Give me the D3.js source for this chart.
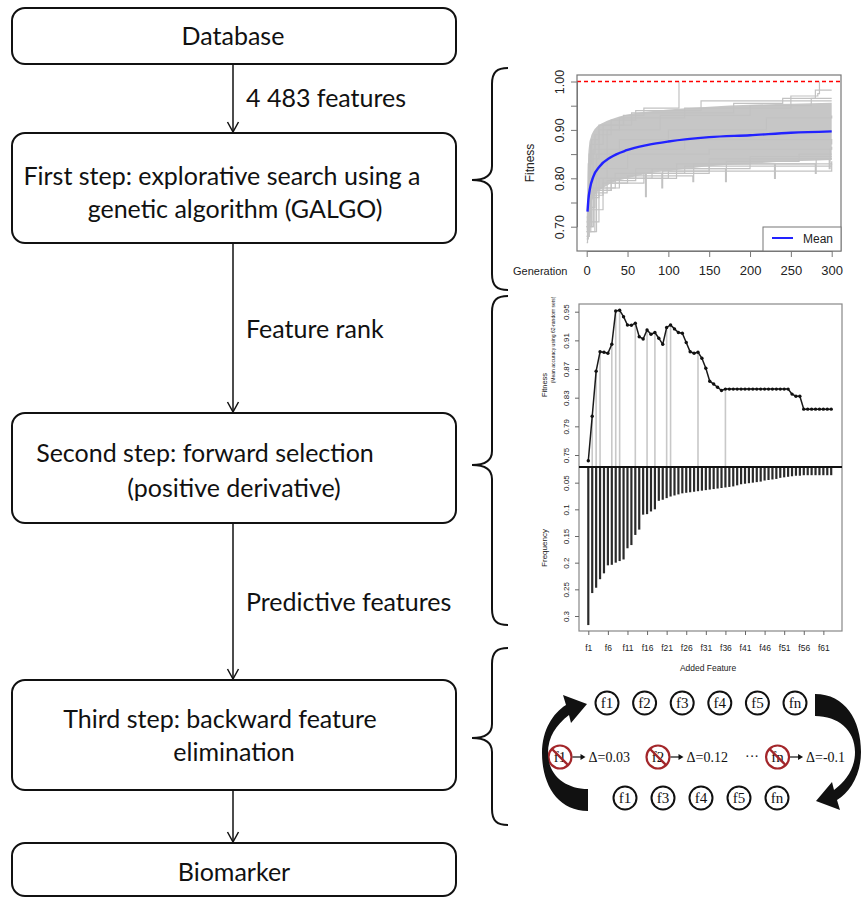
<!DOCTYPE html>
<html>
<head>
<meta charset="utf-8">
<script src="https://cdn.jsdelivr.net/npm/d3@7"></script>
<style>
  body { margin: 0; background: #fff; }
  svg { display: block; }
  .flow text { font-family: Lato, "Open Sans", sans-serif; font-size: 25px; fill: #111; }
  .rplot text { font-family: "Liberation Sans", Arial, sans-serif; fill: #222; }
  .loop text { font-family: "Liberation Serif", "DejaVu Serif", serif; fill: #111; }
</style>
</head>
<body>
<svg id="fig" width="861" height="898"></svg>
<script>
// ---------- data ----------
const stepLabels = [
  ["Database"],
  ["First step: explorative search using a", "genetic algorithm (GALGO)"],
  ["Second step: forward selection", "(positive derivative)"],
  ["Third step: backward feature", "elimination"],
  ["Biomarker"]
];
const linkLabels = ["4 483 features", "Feature rank", "Predictive features", ""];

// GALGO evolution (panel 1)
const genTicks = [0, 50, 100, 150, 200, 250, 300];
const fitnessTicks = [0.70, 0.75, 0.80, 0.85, 0.90, 0.95, 1.00];
const meanGen = [1, 2, 4, 8, 16, 29, 49, 75, 100, 150, 200, 250, 300];
const meanFit = [0.731, 0.755, 0.779, 0.803, 0.825, 0.843, 0.858, 0.869, 0.876, 0.885, 0.889, 0.894, 0.897];
const bandGen = [0, 1, 2, 3, 5, 8, 12, 20, 30, 50, 75, 100, 150, 200, 250, 300];
const bandLow = [0.69, 0.70, 0.715, 0.73, 0.745, 0.76, 0.77, 0.78, 0.79, 0.80, 0.81, 0.815, 0.825, 0.83, 0.835, 0.838];
const bandHigh = [0.71, 0.80, 0.85, 0.87, 0.885, 0.897, 0.906, 0.915, 0.922, 0.932, 0.938, 0.942, 0.948, 0.952, 0.954, 0.956];
const greyRuns = [
  [[0, 0.70], [2, 0.83], [6, 0.88], [15, 0.91], [45, 0.93], [70, 0.945], [113, 1.0]],
  [[0, 0.69], [3, 0.85], [10, 0.89], [30, 0.92], [60, 0.94], [140, 0.96], [300, 0.96]],
  [[0, 0.72], [5, 0.87], [20, 0.91], [55, 0.935], [180, 0.955], [240, 0.965], [300, 0.965]],
  [[0, 0.70], [8, 0.86], [25, 0.90], [90, 0.93], [200, 0.95], [275, 0.965], [280, 0.982], [300, 0.982]],
  [[0, 0.71], [4, 0.84], [15, 0.90], [40, 0.925], [120, 0.945], [250, 0.97], [283, 0.975], [285, 1.0]],
  [[0, 0.68], [3, 0.80], [12, 0.85], [40, 0.88], [100, 0.90], [220, 0.925], [300, 0.93]],
  [[0, 0.667], [1, 0.72], [5, 0.76], [15, 0.775], [30, 0.79], [70, 0.81], [72, 0.762], [73, 0.81], [120, 0.825], [300, 0.825]],
  [[0, 0.68], [3, 0.74], [10, 0.77], [25, 0.795], [60, 0.81], [92, 0.78], [93, 0.815], [150, 0.84], [300, 0.84]],
  [[0, 0.69], [5, 0.765], [20, 0.79], [50, 0.805], [130, 0.793], [131, 0.83], [200, 0.845], [300, 0.845]],
  [[0, 0.70], [8, 0.775], [30, 0.80], [80, 0.82], [170, 0.793], [171, 0.835], [260, 0.85], [300, 0.85]],
  [[0, 0.69], [10, 0.78], [40, 0.80], [110, 0.83], [230, 0.80], [231, 0.83], [300, 0.835]],
  [[0, 0.70], [6, 0.78], [35, 0.81], [150, 0.83], [280, 0.81], [281, 0.84], [300, 0.84]],
  [[0, 0.71], [15, 0.80], [60, 0.82], [200, 0.84], [297, 0.82], [298, 0.86], [300, 0.86]],
  [[0, 0.675], [2, 0.735], [20, 0.80], [100, 0.815], [300, 0.83]],
  [[0, 0.69], [12, 0.82], [50, 0.85], [150, 0.86], [300, 0.865]],
  [[0, 0.70], [4, 0.80], [25, 0.86], [120, 0.88], [300, 0.87]]
];

// forward selection (panel 2)
const featureFitness = [
  0.742, 0.804, 0.867, 0.894, 0.8935, 0.892, 0.9045, 0.951, 0.952, 0.943,
  0.9315, 0.931, 0.934, 0.915, 0.912, 0.9245, 0.9185, 0.921, 0.913, 0.9045,
  0.928, 0.9315, 0.926, 0.921, 0.920, 0.907, 0.894, 0.892, 0.8935, 0.885,
  0.871, 0.853, 0.849, 0.8445, 0.840, 0.842, 0.842, 0.842, 0.842, 0.842,
  0.842, 0.842, 0.842, 0.842, 0.842, 0.842, 0.842, 0.842, 0.842, 0.842,
  0.842, 0.842, 0.835, 0.832, 0.832, 0.814, 0.814, 0.814, 0.814, 0.814,
  0.814, 0.814, 0.814
];
const featureFrequency = [
  0.317, 0.257, 0.247, 0.231, 0.220, 0.205, 0.204, 0.200, 0.197, 0.194,
  0.173, 0.167, 0.148, 0.138, 0.110, 0.109, 0.104, 0.100, 0.084, 0.082,
  0.079, 0.076, 0.074, 0.072, 0.070, 0.069, 0.068, 0.067, 0.066, 0.065,
  0.064, 0.063, 0.062, 0.061, 0.060, 0.059, 0.058, 0.057, 0.055, 0.053,
  0.052, 0.051, 0.050, 0.049, 0.048, 0.046, 0.045, 0.044, 0.043, 0.041,
  0.040, 0.039, 0.038, 0.037, 0.037, 0.036, 0.036, 0.036, 0.036, 0.036,
  0.036, 0.036, 0.036
];
const fitAxisTicks = [0.75, 0.79, 0.83, 0.87, 0.91, 0.95];
const freqAxisTicks = [0.05, 0.1, 0.15, 0.2, 0.25, 0.3];
const featureTicks = [1, 6, 11, 16, 21, 26, 31, 36, 41, 46, 51, 56, 61];

// backward elimination (panel 3)
const topRow = ["f1", "f2", "f3", "f4", "f5", "fn"];
const removedFeatures = ["f1", "f2", "fn"];
const removalDeltas = ["0.03", "0.12", "-0.1"];
const bottomRow = ["f1", "f3", "f4", "f5", "fn"];

const svg = d3.select("#fig");

// ---------- flowchart ----------
const boxLayout = [
  { y0: 8, y1: 64, base: [45], cx: [233] },
  { y0: 133, y1: 243, base: [185, 218], cx: [222, 235] },
  { y0: 413, y1: 523, base: [462, 497], cx: [205, 234] },
  { y0: 680, y1: 790, base: [728, 761], cx: [220, 234] },
  { y0: 843, y1: 896, base: [881], cx: [234] }
];
const flow = svg.append("g").attr("class", "flow");
const flowX0 = 12, flowX1 = 456, flowMid = 233;

boxLayout.forEach((b, i) => {
  flow.append("rect")
    .attr("x", flowX0).attr("y", b.y0)
    .attr("width", flowX1 - flowX0).attr("height", b.y1 - b.y0)
    .attr("rx", 13)
    .attr("fill", "#fff").attr("stroke", "#111").attr("stroke-width", 2);
  stepLabels[i].forEach((line, j) => {
    flow.append("text")
      .attr("x", b.cx[j]).attr("y", b.base[j])
      .attr("text-anchor", "middle")
      .text(line);
  });
  if (i < boxLayout.length - 1) {
    const yEnd = boxLayout[i + 1].y0;
    flow.append("line")
      .attr("x1", flowMid).attr("x2", flowMid)
      .attr("y1", b.y1).attr("y2", yEnd - 1)
      .attr("stroke", "#111").attr("stroke-width", 1.5);
    flow.append("path")
      .attr("d", `M${flowMid - 5.5},${yEnd - 11} L${flowMid},${yEnd - 1} L${flowMid + 5.5},${yEnd - 11}`)
      .attr("fill", "none").attr("stroke", "#111").attr("stroke-width", 1.5);
  }
});
const linkBase = [107, 338, 611];
linkLabels.forEach((t, i) => {
  if (!t) return;
  flow.append("text").attr("x", 246).attr("y", linkBase[i]).text(t);
});

// braces
const braces = [[68, 180, 290], [296, 465, 625], [648, 738, 825]];
svg.append("g").selectAll("path")
  .data(braces)
  .join("path")
  .attr("d", ([t, m, b]) =>
    `M508,${t} C497,${t} 492,${t + 4} 492,${t + 16} L492,${m - 14} ` +
    `C492,${m - 4} 484,${m} 472,${m} C484,${m} 492,${m + 4} 492,${m + 14} ` +
    `L492,${b - 16} C492,${b - 4} 497,${b} 508,${b}`)
  .attr("fill", "none").attr("stroke", "#111").attr("stroke-width", 2);

// ---------- panel 1: GALGO fitness ----------
const p1 = { x0: 577, x1: 841, y0: 75, y1: 251 };
const gx = d3.scaleLinear().domain([0, 300]).range([586.7, 831.7]);
const gy = d3.scaleLinear().domain([0.70, 1.00]).range([226.7, 81.5]);
const c1 = svg.append("g").attr("class", "rplot");

svg.append("clipPath").attr("id", "clip1").append("rect")
  .attr("x", p1.x0).attr("y", p1.y0).attr("width", p1.x1 - p1.x0).attr("height", p1.y1 - p1.y0);
const c1in = c1.append("g").attr("clip-path", "url(#clip1)");

c1in.append("path")
  .datum(bandGen.map((g, i) => ({ g, lo: bandLow[i], hi: bandHigh[i] })))
  .attr("d", d3.area().x(d => gx(d.g)).y0(d => gy(d.lo)).y1(d => gy(d.hi)).curve(d3.curveMonotoneX))
  .attr("fill", "#c6c6c6");

c1in.selectAll(".run")
  .data(greyRuns)
  .join("path")
  .attr("class", "run")
  .attr("d", d3.line().x(d => gx(d[0])).y(d => gy(d[1])).curve(d3.curveStepAfter))
  .attr("fill", "none").attr("stroke", "#c2c2c2").attr("stroke-width", 1.2);

c1in.append("line")
  .attr("x1", p1.x0).attr("x2", p1.x1)
  .attr("y1", gy(1)).attr("y2", gy(1))
  .attr("stroke", "#ff0000").attr("stroke-width", 1.5).attr("stroke-dasharray", "4,3");

c1in.append("path")
  .datum(meanGen.map((g, i) => [g, meanFit[i]]))
  .attr("d", d3.line().x(d => gx(d[0])).y(d => gy(d[1])).curve(d3.curveMonotoneX))
  .attr("fill", "none").attr("stroke", "#2222ff").attr("stroke-width", 2.4);

c1.append("rect")
  .attr("x", p1.x0).attr("y", p1.y0).attr("width", p1.x1 - p1.x0).attr("height", p1.y1 - p1.y0)
  .attr("fill", "none").attr("stroke", "#777").attr("stroke-width", 1.2);

// legend
c1.append("rect").attr("x", 763).attr("y", 227).attr("width", 78).attr("height", 24)
  .attr("fill", "#fff").attr("stroke", "#777").attr("stroke-width", 1);
c1.append("line").attr("x1", 772).attr("x2", 793).attr("y1", 238).attr("y2", 238)
  .attr("stroke", "#2222ff").attr("stroke-width", 2);
c1.append("text").attr("x", 803).attr("y", 243).attr("font-size", 12).text("Mean");

// axes
const ax1y = c1.append("g").attr("transform", `translate(${p1.x0},0)`)
  .call(d3.axisLeft(gy).tickValues(fitnessTicks).tickSize(6).tickSizeOuter(0)
    .tickFormat((d, i) => i % 2 === 0 ? d3.format(".2f")(d) : ""));
ax1y.select(".domain").attr("stroke", "#777");
ax1y.selectAll(".tick line").attr("stroke", "#777");
ax1y.selectAll(".tick text")
  .attr("transform", "rotate(-90)").attr("x", 0).attr("y", -13).attr("dy", 0)
  .attr("text-anchor", "middle").attr("font-size", 12.5).attr("fill", "#222");

const ax1x = c1.append("g").attr("transform", `translate(0,${p1.y1})`)
  .call(d3.axisBottom(gx).tickValues(genTicks).tickSize(6).tickSizeOuter(0));
ax1x.select(".domain").attr("stroke", "#777");
ax1x.selectAll(".tick line").attr("stroke", "#777");
ax1x.selectAll(".tick text").attr("y", 24).attr("dy", 0).attr("font-size", 13).attr("fill", "#222");

c1.append("text").attr("transform", "translate(534,163) rotate(-90)")
  .attr("text-anchor", "middle").attr("font-size", 12).text("Fitness");
c1.append("text").attr("x", 513).attr("y", 275).attr("font-size", 11).text("Generation");

// ---------- panel 2: forward selection ----------
const p2 = { x0: 579, x1: 842, yTop: 304, yMid: 467, yBot: 631 };
const fx = d3.scaleLinear().domain([1, 63]).range([588.3, 831.2]);
const fitY = d3.scaleLinear().domain([0.75, 0.95]).range([455, 311.7]);
const freqY = d3.scaleLinear().domain([0, 0.3]).range([456, 616]);
const c2 = svg.append("g").attr("class", "rplot");
const feats = featureFitness.map((v, i) => ({
  i: i + 1,
  fit: v,
  freq: featureFrequency[i],
  up: i > 0 && v > featureFitness[i - 1]
}));

c2.append("rect")
  .attr("x", p2.x0).attr("y", p2.yTop).attr("width", p2.x1 - p2.x0).attr("height", p2.yBot - p2.yTop)
  .attr("fill", "none").attr("stroke", "#888").attr("stroke-width", 1.2);

// grey drop lines at features with positive derivative
c2.selectAll(".drop")
  .data(feats.filter(d => d.up))
  .join("line")
  .attr("class", "drop")
  .attr("x1", d => fx(d.i)).attr("x2", d => fx(d.i))
  .attr("y1", d => fitY(d.fit)).attr("y2", p2.yMid)
  .attr("stroke", "#c8c8c8").attr("stroke-width", 1.6);

c2.append("path")
  .datum(feats)
  .attr("d", d3.line().x(d => fx(d.i)).y(d => fitY(d.fit)))
  .attr("fill", "none").attr("stroke", "#1a1a1a").attr("stroke-width", 1.5);
c2.selectAll(".pt")
  .data(feats)
  .join("circle")
  .attr("class", "pt")
  .attr("cx", d => fx(d.i)).attr("cy", d => fitY(d.fit)).attr("r", 1.7)
  .attr("fill", "#111");

// frequency bars hanging from the shared border
c2.selectAll(".bar")
  .data(feats)
  .join("line")
  .attr("class", "bar")
  .attr("x1", d => fx(d.i)).attr("x2", d => fx(d.i))
  .attr("y1", p2.yMid).attr("y2", d => freqY(d.freq))
  .attr("stroke", "#2a2a2a").attr("stroke-width", 2.2);

c2.selectAll(".ftick")
  .data(feats)
  .join("line")
  .attr("class", "ftick")
  .attr("x1", d => fx(d.i)).attr("x2", d => fx(d.i))
  .attr("y1", p2.yMid).attr("y2", p2.yMid + 3)
  .attr("stroke", "#333").attr("stroke-width", 1);

c2.append("line").attr("x1", p2.x0).attr("x2", p2.x1).attr("y1", p2.yMid).attr("y2", p2.yMid)
  .attr("stroke", "#111").attr("stroke-width", 2);

const ax2a = c2.append("g").attr("transform", `translate(${p2.x0},0)`)
  .call(d3.axisLeft(fitY).tickValues(fitAxisTicks).tickSize(4).tickSizeOuter(0).tickFormat(d3.format(".2f")));
const ax2b = c2.append("g").attr("transform", `translate(${p2.x0},0)`)
  .call(d3.axisLeft(freqY).tickValues(freqAxisTicks).tickSize(4).tickSizeOuter(0).tickFormat(d => String(d)));
[ax2a, ax2b].forEach(a => {
  a.select(".domain").remove();
  a.selectAll(".tick line").attr("stroke", "#666");
  a.selectAll(".tick text")
    .attr("transform", "rotate(-90)").attr("x", 0).attr("y", -10).attr("dy", 0)
    .attr("text-anchor", "middle").attr("font-size", 8).attr("fill", "#333");
});
const ax2x = c2.append("g").attr("transform", `translate(0,${p2.yBot})`)
  .call(d3.axisBottom(fx).tickValues(featureTicks).tickSize(4).tickSizeOuter(0).tickFormat(d => "f" + d));
ax2x.select(".domain").remove();
ax2x.selectAll(".tick line").attr("stroke", "#666");
ax2x.selectAll(".tick text").attr("y", 20).attr("dy", 0).attr("font-size", 8.5).attr("fill", "#333");

c2.append("text").attr("x", 708).attr("y", 671).attr("text-anchor", "middle")
  .attr("font-size", 8.5).attr("fill", "#333").text("Added Feature");
c2.append("text").attr("transform", "translate(547,385) rotate(-90)")
  .attr("text-anchor", "middle").attr("font-size", 7.5).attr("fill", "#333").text("Fitness");
c2.append("text").attr("transform", "translate(555,340) rotate(-90)")
  .attr("text-anchor", "middle").attr("font-size", 5).attr("fill", "#333")
  .text("(Mean accuracy using 62-random sets)");
c2.append("text").attr("transform", "translate(547,548) rotate(-90)")
  .attr("text-anchor", "middle").attr("font-size", 8).attr("fill", "#333").text("Frequency");

// ---------- panel 3: backward elimination loop ----------
const c3 = svg.append("g").attr("class", "loop");
const topX = d3.scalePoint().domain(topRow).range([607, 795]);
const botX = d3.scalePoint().domain(bottomRow).range([625, 777]);
const rowY = { top: 703, mid: 757, bot: 798 };
const rad = 11.5;

function plainCircles(sel, names, xs, y) {
  const g = sel.selectAll(null).data(names).join("g")
    .attr("transform", d => `translate(${xs(d)},${y})`);
  g.append("circle").attr("r", rad).attr("fill", "#fff").attr("stroke", "#111").attr("stroke-width", 2);
  g.append("text").attr("text-anchor", "middle").attr("dy", "0.33em").attr("font-size", 15).text(d => d);
}
plainCircles(c3, topRow, topX, rowY.top);
plainCircles(c3, bottomRow, botX, rowY.bot);

// middle row: crossed-out feature, arrow, change in fitness
// the ellipsis takes a bit more room before the last feature
const midX = d3.scaleLinear().domain([0, 1]).range([560, 658]);
const midSlot = i => (i === removedFeatures.length - 1 ? i + 0.22 : i);
removedFeatures.forEach((name, i) => {
  const g = c3.append("g").attr("transform", `translate(${midX(midSlot(i))},${rowY.mid})`);
  g.append("text").attr("text-anchor", "middle").attr("dy", "0.33em").attr("font-size", 15).text(name);
  g.append("circle").attr("r", rad).attr("fill", "none").attr("stroke", "#a3262a").attr("stroke-width", 2.2);
  g.append("line").attr("x1", -8).attr("y1", -8).attr("x2", 8).attr("y2", 8)
    .attr("stroke", "#a3262a").attr("stroke-width", 2.4);
  g.append("line").attr("x1", rad + 1).attr("x2", rad + 10).attr("y1", 0).attr("y2", 0)
    .attr("stroke", "#111").attr("stroke-width", 1.2);
  g.append("path").attr("d", `M${rad + 9},-3 L${rad + 14},0 L${rad + 9},3 Z`).attr("fill", "#111");
  g.append("text").attr("x", rad + 17).attr("dy", "0.33em").attr("font-size", 14)
    .text("Δ=" + removalDeltas[i]);
});
c3.append("text").attr("x", midX(midSlot(2)) - rad - 14).attr("y", rowY.mid + 4)
  .attr("text-anchor", "middle").attr("font-size", 14).text("···");

// curved arrows closing the loop
const loopArrow = "M815,694 C845,694 861,720 861,752 C861,775 850,792 837,800 " +
  "L840,810 L816,801 L832,782 L834,790 C847,780 855,768 855,752 " +
  "C855,730 838,716 815,716 Z";
c3.append("path").attr("d", loopArrow).attr("fill", "#111");
c3.append("path").attr("d", loopArrow).attr("fill", "#111")
  .attr("transform", "rotate(180,701.5,752.5)");
</script>
</body>
</html>
